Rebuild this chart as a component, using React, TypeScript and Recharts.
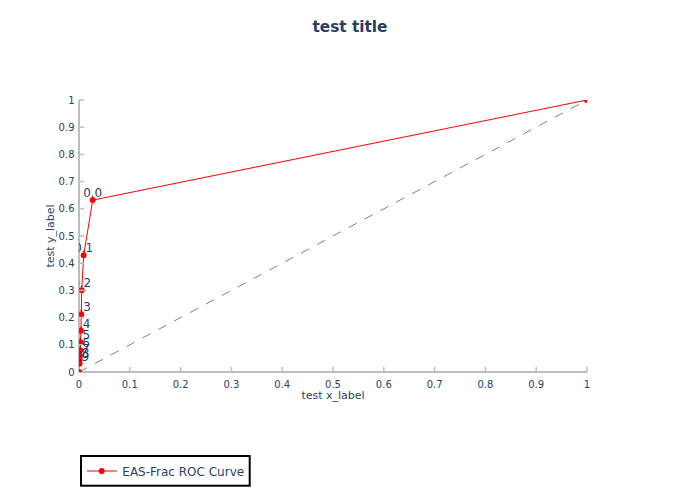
import React from 'react';
import { LineChart, Line, XAxis, YAxis, LabelList } from 'recharts';

const fprValues = [0, 0.001, 0.0015, 0.002, 0.0025, 0.003, 0.0038, 0.0045, 0.0053, 0.0092, 0.027, 1];
const tprValues = [0, 0.03, 0.045, 0.06, 0.08, 0.109, 0.152, 0.212, 0.301, 0.429, 0.632, 1];
const thresholdLabels = ['', '0.9', '0.8', '0.7', '0.6', '0.5', '0.4', '0.3', '0.2', '0.1', '0.0', ''];
const diagX = [0, 1];
const diagY = [0, 1];
const xTicks = [0, 0.1, 0.2, 0.3, 0.4, 0.5, 0.6, 0.7, 0.8, 0.9, 1];
const yTicks = [0, 0.1, 0.2, 0.3, 0.4, 0.5, 0.6, 0.7, 0.8, 0.9, 1];

const rocData = fprValues.map((x, i) => ({ x, y: tprValues[i], label: thresholdLabels[i] }));
const diagData = diagX.map((x, i) => ({ x, y: diagY[i] }));

const FONT = '"DejaVu Sans", sans-serif';
const TEXT = '#2a3f5f';
const AXIS = '#bdbdbd';
const CLIP = 'url(#plotAreaClip)';

const XTick = (props: any) => {
  const { x, y, payload } = props;
  return (
    <g>
      {payload.value !== 0 && <line x1={x} x2={x} y1={y} y2={y - 5} stroke={AXIS} strokeWidth={1.5} />}
      <text x={x} y={y + 15.5} textAnchor="middle" fontSize={10} fill={TEXT} fontFamily={FONT}>
        {String(payload.value)}
      </text>
    </g>
  );
};

const YTick = (props: any) => {
  const { x, y, payload } = props;
  return (
    <g>
      {payload.value !== 0 && <line x1={x} x2={x + 5} y1={y} y2={y} stroke={AXIS} strokeWidth={1.5} />}
      <text x={x - 4.5} y={y + 3.6} textAnchor="end" fontSize={10} fill={TEXT} fontFamily={FONT}>
        {String(payload.value)}
      </text>
    </g>
  );
};

const XLabel = (props: any) => {
  const { viewBox } = props;
  return (
    <text x={viewBox.x + viewBox.width / 2} y={viewBox.y + 27} textAnchor="middle" fontSize={11} fill={TEXT} fontFamily={FONT}>
      test x_label
    </text>
  );
};

const YLabel = (props: any) => {
  const { viewBox } = props;
  const cy = viewBox.y + viewBox.height / 2;
  return (
    <text transform={`translate(53.5, ${cy}) rotate(-90)`} x={0} y={0} textAnchor="middle" fontSize={11} fill={TEXT} fontFamily={FONT}>
      test y_label
    </text>
  );
};

const PointLabel = (props: any) => {
  const { x, y, value } = props;
  if (!value) return null;
  return (
    <text x={x} y={y - 3} textAnchor="middle" fontSize={12} fill={TEXT} fontFamily={FONT} clipPath={CLIP}>
      {value}
    </text>
  );
};

const ClippedDot = (props: any) => {
  const { cx, cy } = props;
  if (cx == null || cy == null) return null;
  return <circle cx={cx} cy={cy} r={3} fill="#ff0000" clipPath={CLIP} />;
};

export default function App() {
  return (
    <div style={{ position: 'absolute', left: 0, top: 0, width: 700, height: 500, background: '#fff' }}>
      <svg width={0} height={0} style={{ position: 'absolute' }}>
        <defs>
          <clipPath id="plotAreaClip">
            <rect x={79} y={100} width={508} height={272} />
          </clipPath>
        </defs>
      </svg>
      <LineChart width={700} height={500} data={rocData} margin={{ top: 100, right: 113, left: 39, bottom: 88 }}>
        <XAxis
          type="number"
          dataKey="x"
          domain={[0, 1]}
          ticks={xTicks}
          allowDataOverflow
          height={40}
          tickSize={0}
          tickMargin={0}
          tickLine={false}
          axisLine={{ stroke: AXIS, strokeWidth: 2 }}
          tick={<XTick />}
          label={<XLabel />}
        />
        <YAxis
          type="number"
          dataKey="y"
          domain={[0, 1]}
          ticks={yTicks}
          allowDataOverflow
          width={40}
          tickSize={0}
          tickMargin={0}
          tickLine={false}
          axisLine={{ stroke: AXIS, strokeWidth: 2 }}
          tick={<YTick />}
          label={<YLabel />}
        />
        <Line
          data={diagData}
          dataKey="y"
          type="linear"
          stroke="#808080"
          strokeWidth={1}
          strokeDasharray="9 9"
          dot={false}
          activeDot={false}
          isAnimationActive={false}
        />
        <Line
          dataKey="y"
          type="linear"
          stroke="#ff0000"
          strokeWidth={1}
          dot={<ClippedDot />}
          activeDot={false}
          isAnimationActive={false}
        >
          <LabelList dataKey="label" content={<PointLabel />} />
        </Line>
      </LineChart>
      <svg width={700} height={500} style={{ position: 'absolute', left: 0, top: 0, pointerEvents: 'none' }}>
        <text x={350} y={31.7} textAnchor="middle" fontSize={15.3} fontWeight="bold" fill={TEXT} fontFamily={FONT}>
          test title
        </text>
        <rect x={81} y={456} width={168.7} height={29.7} fill="#fff" stroke="#000" strokeWidth={2} />
        <line x1={87} x2={117} y1={471} y2={471} stroke="#ff0000" strokeOpacity={0.5} strokeWidth={2} />
        <circle cx={101.7} cy={471} r={3} fill="#ff0000" />
        <text x={122.3} y={475.7} fontSize={12} fill={TEXT} fontFamily={FONT}>
          EAS-Frac ROC Curve
        </text>
      </svg>
    </div>
  );
}
